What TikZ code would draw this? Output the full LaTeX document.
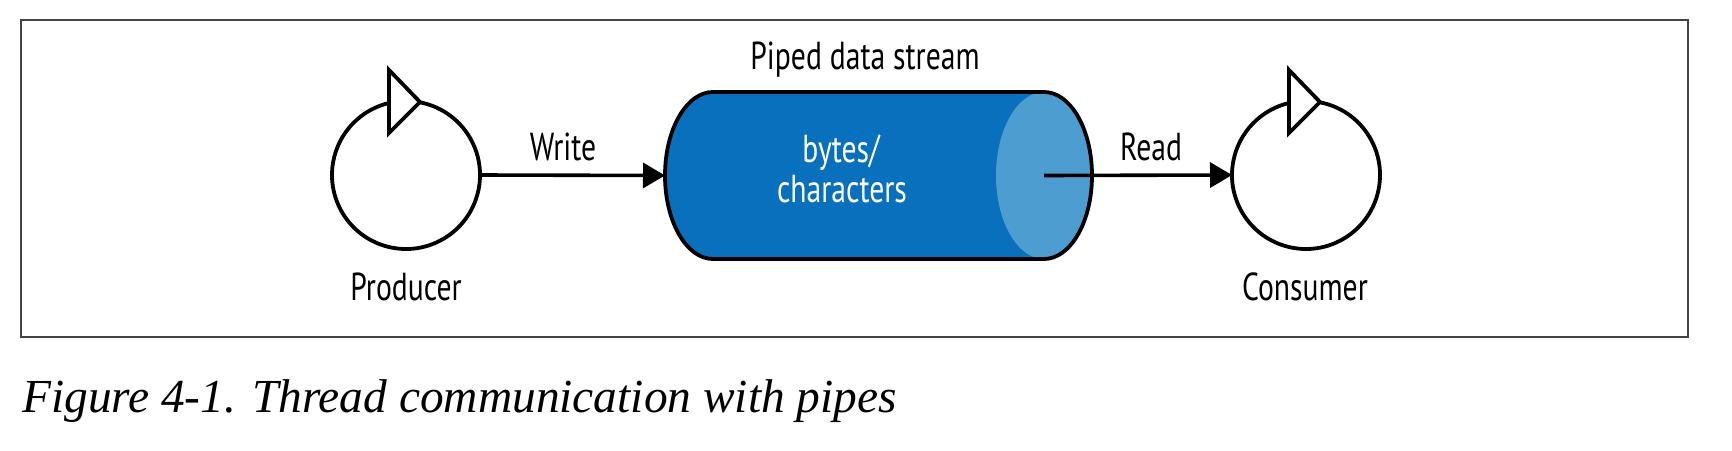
\documentclass[tikz,border=0pt]{standalone}
\usepackage{fontspec}
\setsansfont{PT Sans}[FakeStretch=0.76]
\newfontfamily\capfont{Liberation Serif}
\usetikzlibrary{arrows.meta}
\definecolor{pipedark}{HTML}{0870BC}
\definecolor{pipelight}{HTML}{4E9DD1}
\definecolor{framegray}{HTML}{444444}
\tikzset{
  lbl/.style={font=\sffamily\fontsize{39}{44}\selectfont, inner sep=0pt, anchor=base},
  proc/.style={circle, minimum size=148pt, inner sep=0pt, outer sep=0pt, draw=none},
  ring/.style={line width=3.8pt},
  tri/.style={line width=3.8pt, fill=white, line join=miter},
  conn/.style={line width=3.6pt, -{Triangle[length=22pt,width=25pt]}},
}
\begin{document}
\begin{tikzpicture}[x=1pt,y=-1pt]
\useasboundingbox (0,0) rectangle (1732,450);
\draw[framegray, line width=1.6pt] (21,20) rectangle (1688,337);

% processes
\node[proc] (prod) at (406,175) {};
\node[proc] (cons) at (1306,175) {};
\draw[ring] ([shift={(-79:74)}]prod.center) arc[start angle=-79, end angle=257, radius=74];
\draw[tri] ([shift={(-17,-105)}]prod.center) -- ([shift={(-17,-42)}]prod.center) -- ([shift={(14,-73)}]prod.center) -- cycle;
\draw[ring] ([shift={(-79:74)}]cons.center) arc[start angle=-79, end angle=257, radius=74];
\draw[tri] ([shift={(-17,-105)}]cons.center) -- ([shift={(-17,-42)}]cons.center) -- ([shift={(14,-73)}]cons.center) -- cycle;

% pipe
\node[inner sep=0pt, outer sep=0pt, minimum width=427pt, minimum height=167pt] (pipe) at (878.5,175.5) {};
\coordinate (rd) at (1044,175.5);
\fill[pipedark] (713,92) -- (1044,92) arc[start angle=-90, end angle=90, x radius=48, y radius=83.5]
  -- (713,259) arc[start angle=90, end angle=270, x radius=48, y radius=83.5] -- cycle;
\fill[pipelight] (rd) ellipse[x radius=48, y radius=83.5];
\draw[line width=3.8pt] (713,92) -- (1044,92) arc[start angle=-90, end angle=90, x radius=48, y radius=83.5]
  -- (713,259) arc[start angle=90, end angle=270, x radius=48, y radius=83.5] -- cycle;

% connectors
\draw[conn] (prod.east) -- (pipe.west);
\draw[conn] (rd) -- (cons.west);

% labels
\node[lbl] (wlbl) at (563,160) {Write};
\node[lbl] (rlbl) at (1151,160) {Read};
\node[lbl] (plbl) at (865,69) {Piped data stream};
\node[lbl, text=white] (b1) at (841,162) {bytes/};
\node[lbl, text=white] (b2) at (842,202) {characters};
\node[lbl] (plab) at (406,300) {Producer};
\node[lbl] (clab) at (1305,300) {Consumer};
\node[font=\capfont\itshape\fontsize{47.4}{54}\selectfont, inner sep=0pt, anchor=base west] (cap) at (22,412) {Figure 4-1. Thread communication with pipes};
\end{tikzpicture}
\end{document}
